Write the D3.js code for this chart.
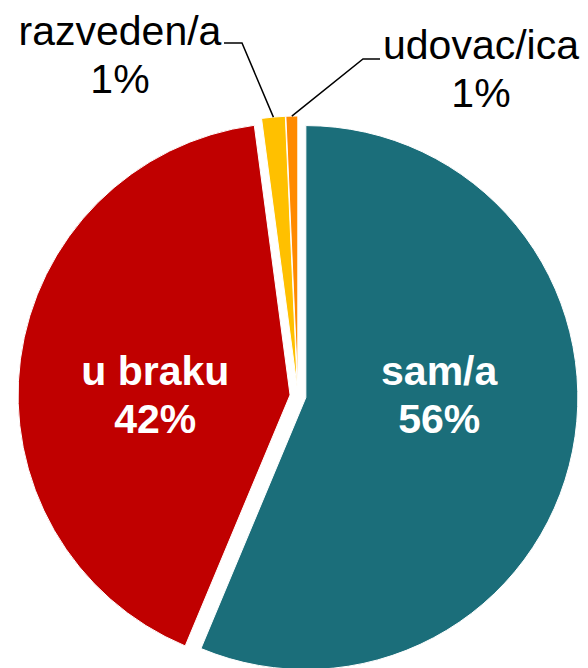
<!DOCTYPE html>
<html>
<head>
<meta charset="utf-8">
<script src="https://cdn.jsdelivr.net/npm/d3@7"></script>
<style>
  body { margin: 0; background: #fff; }
  svg { display: block; }
  text { font-family: "Liberation Sans", Arial, sans-serif; }
</style>
</head>
<body>
<div id="pie-chart"></div>
<script>
// Data (share of respondents, %)
const categories = ["sam/a", "u braku", "razveden/a", "udovac/ica"];
const values = [56.3, 41.6, 1.4, 0.7];
const colors = ["#1b6e7a", "#c00000", "#ffc000", "#ff8a00"];
// which labels sit inside the slice (true) or outside with a leader line (false)
const inside = [true, true, false, false];

// Dimensions
const width = 588;
const height = 668;
const radius = 272;
const cx = 298, cy = 396;
const explode = 8; // every slice pushed out a little

const svg = d3.select("#pie-chart")
    .append("svg")
        .attr("width", width)
        .attr("height", height);

const g = svg.append("g")
    .attr("transform", `translate(${cx}, ${cy})`);

const pieData = categories.map((c, i) => ({ name: c, value: values[i], color: colors[i], inside: inside[i] }));

// pie starts at 12 o'clock, goes clockwise, no sorting
const pie = d3.pie()
    .sort(null)
    .value(d => d.value);
const data_ready = pie(pieData);
const total = d3.sum(values);

const arcGenerator = d3.arc()
    .innerRadius(0)
    .outerRadius(radius);

// offset of a slice along its middle angle
function offset(d, dist) {
    const a = (d.startAngle + d.endAngle) / 2;
    return [Math.sin(a) * dist, -Math.cos(a) * dist];
}

g.selectAll("path")
    .data(data_ready)
    .enter()
    .append("path")
        .attr("d", arcGenerator)
        .attr("fill", d => d.data.color)
        .attr("stroke", "#fff")
        .style("stroke-width", "1px")
        .attr("transform", d => `translate(${offset(d, explode)})`);

// inside labels: white bold, two lines, placed across from the slice
const insideLabels = g.selectAll("text.inside")
    .data(data_ready.filter(d => d.data.inside))
    .enter()
    .append("text")
        .attr("class", "inside")
        .attr("text-anchor", "middle")
        .attr("fill", "#fff")
        .style("font-size", "41px")
        .style("font-weight", "bold")
        .attr("transform", d => {
            const [ox] = offset(d, explode + 136);
            return `translate(${ox}, 0)`;
        });
insideLabels.append("tspan")
    .attr("x", 0).attr("y", -11)
    .text(d => d.data.name);
insideLabels.append("tspan")
    .attr("x", 0).attr("y", 37)
    .text(d => Math.round(d.data.value / total * 100) + "%");

// outside labels with leader lines (elbow + label centre, page coords)
const callout = {
    "razveden/a": { elbow: [242, 43], textEnd: 224, labelX: 120, labelY: 45 },
    "udovac/ica": { elbow: [363, 59], textEnd: 380, labelX: 481, labelY: 59 }
};

data_ready.filter(d => !d.data.inside).forEach(d => {
    const c = callout[d.data.name];
    const [ox, oy] = offset(d, explode + radius);
    const pts = [[c.textEnd, c.elbow[1]], c.elbow, [cx + ox, cy + oy]];
    svg.append("path")
        .attr("d", d3.line()(pts))
        .attr("fill", "none")
        .attr("stroke", "#000")
        .style("stroke-width", "1.5px");
    const t = svg.append("text")
        .attr("text-anchor", "middle")
        .attr("fill", "#000")
        .style("font-size", "41px");
    t.append("tspan")
        .attr("x", c.labelX).attr("y", c.labelY)
        .text(d.data.name);
    t.append("tspan")
        .attr("x", c.labelX).attr("y", c.labelY + 48)
        .text(Math.round(d.data.value / total * 100) + "%");
});
</script>
</body>
</html>
